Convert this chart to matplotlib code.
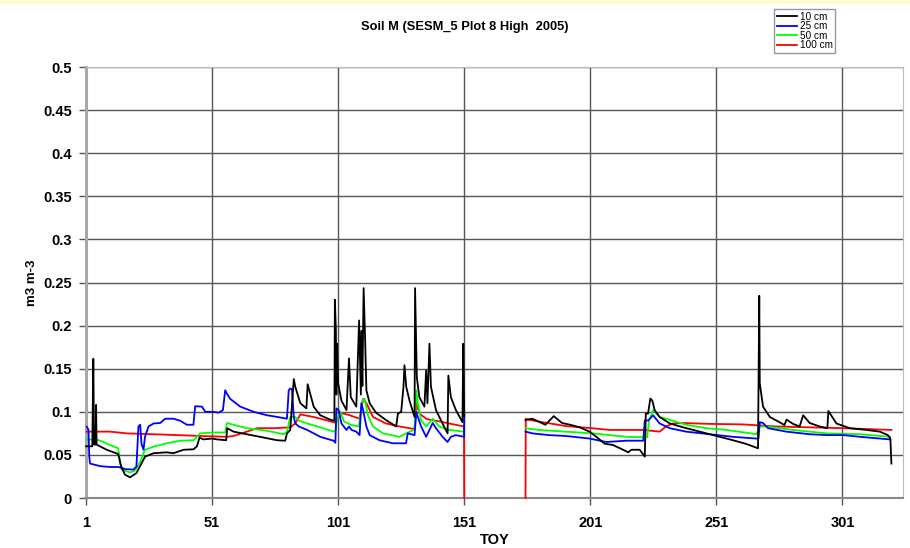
import numpy as np
import matplotlib
matplotlib.use("Agg")
import matplotlib.pyplot as plt
from matplotlib.patches import Rectangle

# ---- data (TOY = day of year) ----
nan = np.nan

d10_day = [1, 3.5, 3.9, 4.2, 4.8, 5.0, 5.2, 9.2, 13.8, 15.0, 16.5, 18.5, 21, 23, 24.4,
           27.8, 33, 35.7, 39.7, 43.6, 45, 46, 47.6, 51, 53, 56.6, 57, 59.5, 64.8, 70,
           76.8, 80, 80.7, 82, 83.4, 84, 86, 88.4, 88.9, 91.3, 93.9, 97.8, 99.5,
           99.7, 100.1, 100.3, 100.5, 101, 102.3, 104.3, 105.3, 106, 108.2, 109.3, 110,
           110.3, 110.6, 111.1, 111.7, 112.2, 113.5, 116, 120, 124, 124.7, 126, 126.9,
           127.3, 128, 129.3, 131.3, 131.5, 132.2, 133.2, 135.2, 135.9, 136.4, 137.2,
           137.8, 139.8, 142.4, 144.4, 144.7, 145.7, 147.7, 150.3, 150.6, 150.9, 151, 152,
           175.3, 178, 183.2, 186.5, 189.8, 193, 196.8, 200.7, 203.4, 206.7, 210, 214,
           216, 217.3, 220.6, 222.6, 223, 223.9, 224.8, 225.6, 226.5, 228.5, 232.5,
           237.8, 244.4, 251, 257.6, 262.9, 267.5, 268, 268.2, 269.5, 272.2, 276, 278,
           278.8, 281.4, 284, 285.4, 288, 292, 295, 295.4, 298.6, 303.9, 310.5, 315.8,
           319, 320, 320.4]
d10_val = [0.060, 0.060, 0.1615, 0.062, 0.062, 0.108, 0.062, 0.056, 0.051, 0.036, 0.027, 0.024, 0.029, 0.040, 0.048,
           0.052, 0.053, 0.052, 0.056, 0.0565, 0.060, 0.070, 0.068, 0.069, 0.068, 0.067, 0.081, 0.077, 0.074, 0.071,
           0.067, 0.0665, 0.075, 0.079, 0.138, 0.129, 0.110, 0.104, 0.132, 0.106, 0.096, 0.091, 0.0896,
           0.230, 0.194, 0.120, 0.179, 0.133, 0.113, 0.102, 0.162, 0.117, 0.106, 0.206, 0.120,
           0.194, 0.130, 0.2435, 0.183, 0.125, 0.110, 0.099, 0.0904, 0.083, 0.098, 0.100, 0.129,
           0.154, 0.129, 0.113, 0.094, 0.2435, 0.140, 0.117, 0.106, 0.148, 0.110, 0.179,
           0.129, 0.102, 0.0865, 0.075, 0.142, 0.117, 0.102, 0.088, 0.179, 0.110, 0.095, nan,
           0.0904, 0.092, 0.085, 0.095, 0.087, 0.085, 0.082, 0.077, 0.071, 0.063, 0.0615, 0.056,
           0.053, 0.056, 0.056, 0.048, 0.098, 0.098, 0.1154, 0.113, 0.102, 0.094, 0.0865,
           0.082, 0.077, 0.072, 0.067, 0.0627, 0.0577, 0.2346, 0.133, 0.106, 0.094, 0.088, 0.0846,
           0.091, 0.086, 0.083, 0.096, 0.087, 0.083, 0.081, 0.101, 0.0865, 0.081, 0.079, 0.077,
           0.073, 0.069, 0.040]

d25_day = [1.3, 2.0, 2.3, 2.6, 6.6, 10.5, 13.8, 15.2, 16.5, 19.8, 21, 21.8, 22.5, 23, 23.8,
           24.4, 25.8, 27.8, 30.4, 32.4, 35.7, 38.4, 41, 43.6, 44.3, 47, 48.3, 51.6, 53.6,
           55.3, 56.2, 56.9, 58.2, 62.2, 67.5, 72.8, 78, 80.7, 81.4, 82, 82.7, 83.4, 84,
           85.4, 88.7, 93.9, 99.2, 99.9, 100.3, 101.2, 102.3, 104.3, 105.3, 106.3, 108.2,
           109.5, 110.2, 110.9, 112.2, 113.5, 117.4, 122.7, 127.9, 128.6, 131.3, 132, 132.6,
           133.9, 135.9, 138.5, 139.8, 142.4, 144.4, 145.7, 147.7, 150.9, 151, 152,
           175.3, 178, 184.6, 191.2, 200.7, 207.3, 215.3, 222, 222.6, 224, 225.9, 228.5,
           232.5, 239, 248.3, 257.6, 266.8, 267.7, 268.2, 269.5, 271.5, 278.8, 288, 294.7,
           301.3, 308, 319.8]
d25_val = [0.0827, 0.079, 0.048, 0.040, 0.037, 0.036, 0.036, 0.035, 0.0335, 0.033, 0.0365, 0.083, 0.085, 0.063, 0.056,
           0.071, 0.083, 0.0865, 0.087, 0.092, 0.092, 0.0896, 0.085, 0.085, 0.1065, 0.106, 0.100, 0.100, 0.099,
           0.102, 0.125, 0.121, 0.115, 0.106, 0.100, 0.096, 0.0935, 0.092, 0.125, 0.127, 0.126, 0.094, 0.0865,
           0.083, 0.079, 0.071, 0.0665, 0.064, 0.104, 0.102, 0.0865, 0.079, 0.083, 0.079, 0.077,
           0.073, 0.110, 0.102, 0.083, 0.073, 0.067, 0.0635, 0.0635, 0.075, 0.073, 0.100, 0.094,
           0.083, 0.071, 0.087, 0.081, 0.071, 0.065, 0.071, 0.073, 0.071, 0.098, nan,
           0.077, 0.075, 0.073, 0.072, 0.069, 0.065, 0.0665, 0.0665, 0.090, 0.090, 0.096, 0.0865,
           0.081, 0.077, 0.074, 0.071, 0.069, 0.069, 0.088, 0.087, 0.081, 0.077, 0.074, 0.073,
           0.073, 0.071, 0.068]

d50_day = [1.3, 5.2, 7.9, 10.5, 13.8, 14.5, 15.2, 18.5, 20.5, 22.5, 24.4, 27.8, 33, 38.4,
           43.6, 45, 46.3, 51.6, 56.2, 56.9, 59.5, 64.8, 72.8, 79.4, 80.7, 82, 84, 85.4,
           88.7, 93.9, 99.2, 100, 100.8, 101.9, 103.3, 105.9, 109.2, 110.6, 111.5, 112.8,
           114.8, 118.8, 125.3, 128, 131.3, 132, 132.6, 133.9, 135.9, 138.5, 141.1, 145, 151, 152,
           175.3, 180.5, 191.2, 202, 208.7, 215.3, 223.5, 224.3, 225.9, 228.5, 233.8, 239,
           247, 255, 266.9, 268.2, 270.8, 281.4, 294.7, 308, 319.8]
d50_val = [0.068, 0.068, 0.065, 0.0615, 0.0577, 0.040, 0.033, 0.0296, 0.032, 0.042, 0.056, 0.0596, 0.0635, 0.0665,
           0.067, 0.071, 0.075, 0.076, 0.076, 0.087, 0.085, 0.081, 0.078, 0.074, 0.077, 0.094, 0.094, 0.090,
           0.0865, 0.082, 0.077, 0.079, 0.094, 0.100, 0.089, 0.085, 0.083, 0.113, 0.115, 0.096,
           0.083, 0.075, 0.071, 0.075, 0.0796, 0.125, 0.110, 0.090, 0.083, 0.092, 0.083, 0.079, 0.077, nan,
           0.081, 0.079, 0.077, 0.075, 0.073, 0.071, 0.0704, 0.090, 0.102, 0.094, 0.0896, 0.085,
           0.081, 0.079, 0.074, 0.083, 0.083, 0.079, 0.075, 0.074, 0.071]

d100_day = [1.3, 10.5, 17.2, 27.8, 37, 46.3, 56.9, 59.5, 64.8, 68.8, 75.4, 82, 84, 86, 91.3,
            96.6, 100, 101.9, 105.6, 109.5, 110.9, 112.2, 114.8, 120, 125.3, 131.3, 132, 133.2,
            135.9, 138.5, 141.1, 145, 150.9, 151, 163, 175.3, 175.4, 178, 191.2, 201.6, 208.7, 222,
            228.5, 231, 233.8, 237.8, 248.3, 261.6, 274.8, 288, 301.3, 320.4]
d100_val = [0.077, 0.077, 0.075, 0.074, 0.073, 0.072, 0.071, 0.072, 0.077, 0.081, 0.081, 0.082, 0.0865, 0.097, 0.094,
            0.090, 0.0873, 0.099, 0.096, 0.092, 0.115, 0.110, 0.094, 0.0865, 0.083, 0.080, 0.110, 0.098,
            0.092, 0.090, 0.089, 0.0865, 0.083, 0.0, nan, 0.0, 0.092, 0.090, 0.0835, 0.081, 0.079, 0.079,
            0.077, 0.083, 0.0865, 0.087, 0.086, 0.0854, 0.083, 0.082, 0.081, 0.079]

series = [("10 cm", d10_day, d10_val, "black"),
          ("25 cm", d25_day, d25_val, "#0000ff"),
          ("50 cm", d50_day, d50_val, "#00ff00"),
          ("100 cm", d100_day, d100_val, "#ff0000")]

x_ticks = [1, 51, 101, 151, 201, 251, 301]
y_ticks = [0, 0.05, 0.1, 0.15, 0.2, 0.25, 0.3, 0.35, 0.4, 0.45, 0.5]
y_labels = ["0", "0.05", "0.1", "0.15", "0.2", "0.25", "0.3", "0.35", "0.4", "0.45", "0.5"]

plt.rcParams['font.family'] = ['Liberation Sans', 'DejaVu Sans']

fig = plt.figure(figsize=(9.1, 5.48), dpi=100)
# thin pale band along the top edge
fig.patches.append(Rectangle((0, 0.994), 1, 0.006, transform=fig.transFigure,
                             color="#fffbd0", zorder=0))
ax = fig.add_axes([0.0945, 0.0912, 0.8978, 0.7865])

# plot order: red underneath, black on top
for name, d, v, c in reversed(series):
    ax.plot(d, v, color=c, lw=1.3, label=name, zorder=3, clip_on=False)

ax.set_xlim(1, 325)
ax.set_ylim(0, 0.5)
ax.set_xticks(x_ticks)
ax.set_xticklabels([str(t) for t in x_ticks], fontweight="bold", fontsize=10.5)
ax.set_yticks(y_ticks)
ax.set_yticklabels(y_labels, fontweight="bold", fontsize=10.5)
ax.grid(True, color="#555555", lw=1.0)
ax.set_axisbelow(True)
ax.tick_params(axis="y", direction="out", length=5, width=1, color="#555555", pad=5)
ax.tick_params(axis="x", direction="out", length=5, width=1, color="#555555", pad=8)

ax.spines["left"].set_color("#a8a8a8")
ax.spines["left"].set_linewidth(2.2)
ax.spines["bottom"].set_color("#888888")
ax.spines["bottom"].set_linewidth(1.5)
ax.spines["top"].set_color("#bbbbbb")
ax.spines["right"].set_color("#bbbbbb")

ax.set_xlabel("TOY", fontweight="bold", fontsize=10.5, labelpad=2)
ax.set_ylabel("m3 m-3", fontweight="bold", fontsize=9.5, labelpad=4)

fig.text(0.511, 0.950, "Soil M (SESM_5 Plot 8 High  2005)", ha="center", va="center",
         fontweight="bold", fontsize=9.3)

h, l = ax.get_legend_handles_labels()
leg = fig.legend(h[::-1], l[::-1], loc="upper left", bbox_to_anchor=(0.851, 0.983),
                 fontsize=7.2, frameon=True, fancybox=False, edgecolor="#808080",
                 handlelength=2.0, handletextpad=0.3, labelspacing=-0.05,
                 borderpad=0.25, borderaxespad=0)
leg.get_frame().set_linewidth(1.0)

fig.savefig("out.png", dpi=100)
